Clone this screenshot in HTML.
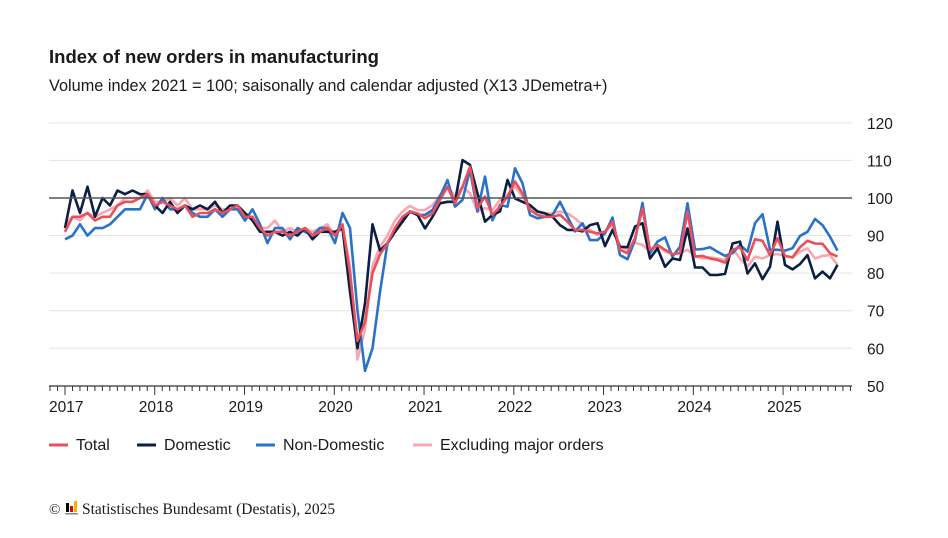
<!DOCTYPE html>
<html><head><meta charset="utf-8"><style>
body{margin:0;background:#fff;width:948px;height:533px;overflow:hidden;font-family:"Liberation Sans",sans-serif}
</style></head><body>
<svg id="s" width="948" height="533" xmlns="http://www.w3.org/2000/svg" font-family="Liberation Sans, sans-serif">
<text x="49" y="63" font-size="18.5" font-weight="bold" fill="#1a1a1a">Index of new orders in manufacturing</text>
<text x="49" y="91" font-size="16.3" fill="#1a1a1a">Volume index 2021 = 100; saisonally and calendar adjusted (X13 JDemetra+)</text>
<g id="grid"></g>
<g id="lines" fill="none" stroke-width="2.6" stroke-linejoin="round"></g>
<g font-size="16" fill="#1a1a1a">
<line x1="49" y1="445" x2="68" y2="445" stroke="#e8505b" stroke-width="3"/><text x="76" y="450">Total</text>
<line x1="137" y1="445" x2="156" y2="445" stroke="#0b1f44" stroke-width="3"/><text x="164" y="450">Domestic</text>
<line x1="256" y1="445" x2="275" y2="445" stroke="#2a72c8" stroke-width="3"/><text x="283" y="450">Non-Domestic</text>
<line x1="413" y1="445" x2="432" y2="445" stroke="#f7a8b0" stroke-width="3"/><text x="440" y="450">Excluding major orders</text>
</g>
<text x="49" y="514" font-size="15" font-family="Liberation Serif, serif" fill="#1a1a1a">©</text>
<rect x="66" y="503" width="3" height="9" fill="#000"/><rect x="70" y="506" width="3" height="6" fill="#d00"/><rect x="74" y="501" width="3" height="11" fill="#f0b400"/><rect x="65" y="513" width="13" height="1.5" fill="#888"/>
<text x="82" y="514" font-size="15.5" font-family="Liberation Serif, serif" fill="#1a1a1a">Statistisches Bundesamt (Destatis), 2025</text>
</svg>
<script>
var ns="http://www.w3.org/2000/svg";
function el(p,t,a,txt){var e=document.createElementNS(ns,t);for(var k in a)e.setAttribute(k,a[k]);if(txt)e.textContent=txt;p.appendChild(e);return e;}
var g=document.getElementById('grid');
function Y(v){return 198-(v-100)*3.757;}
for(var v=60;v<=120;v+=10){if(v==100)continue;el(g,'line',{x1:49,x2:852,y1:Y(v),y2:Y(v),stroke:'#e3e3e3','stroke-width':1});}
for(var v=50;v<=120;v+=10)el(g,'text',{x:867,y:Y(v)+6,'font-size':15.5,fill:'#1a1a1a'},String(v));
el(g,'line',{x1:49,x2:852,y1:386,y2:386,stroke:'#333','stroke-width':1.2});
function X(i){return 65+i*7.5;}
for(var i=-2;i<106;i++){var x=65+i*7.48;if(x<49||x>852)continue;var maj=(i%12==0);el(g,'line',{x1:x,x2:x,y1:386,y2:maj?395:391,stroke:'#333','stroke-width':1});}
for(var y=0;y<9;y++)el(g,'text',{x:65+y*12*7.48-16,y:412,'font-size':15.5,fill:'#1a1a1a'},String(2017+y));
var D=[92,102,96,103,95,100,98,102,101,102,101,101, 98,96,99,96,98,97,98,97,99,96,98,98, 96,94,91,91,91,90,91,90,92,89,91,91, 91,92,75,60,72,93,86,88,91,
93.7,96.4,95.5,91.9,95.0,98.6,99.0,99.0,110.1,108.8,101.2,93.7,95.5,96.4,104.8,99.9,99.0,98.1,96.4,95.9,95.0,92.8,91.5,91.5,91.1,
92.8,93.3,87.2,91.5,87.0,86.9,92.4,93.3,83.9,86.6,81.7,83.9,83.5,91.9,81.5,81.5,79.5,79.5,79.8,87.9,88.4,79.9,82.6,78.4,81.7,93.7,82.2,81.0,82.4,84.8,78.6,80.4,78.6,82.2];
var N=[89,90,93,90,92,92,93,95,97,97,97,101, 97,100,97,97,98,96,95,95,97,95,97,97, 94,97,93,88,92,92,89,92,91,90,92,92, 88,96,92,70,54,60,75,88,91,
94.6,96.4,95.5,95.5,96.8,100.4,104.8,97.7,99.5,107.5,96.4,105.7,94.1,98.1,97.7,107.9,103.9,95.5,94.6,95.0,95.5,99.0,95.0,91.1,93.3,
88.8,88.8,90.6,94.8,84.8,83.7,88.8,98.7,85.3,88.4,89.5,84.4,87.0,98.6,86.3,86.4,86.9,85.7,84.6,85.3,87.5,85.7,93.3,95.7,86.2,86.2,86.0,86.6,89.9,91.0,94.4,92.8,89.7,86.0];
var T=[91,95,95,96,94,95,95,98,99,99,100,101, 98,99,98,97,98,95,96,96,97,96,97,98, 95,95,92,90,91,91,90,91,92,90,91,92, 90,93,80,62,67,80,85,88,92,
95.0,96.4,95.9,94.6,95.9,99.5,103.0,98.6,103.0,108.3,97.3,100.4,95.5,97.7,100.4,104.4,101.2,96.8,95.5,95.0,95.0,95.5,93.7,91.5,91.5,
91.0,90.6,91.0,93.7,86.2,85.3,89.3,97.2,86.2,87.5,86.2,85.1,85.3,96.4,84.4,84.6,83.9,83.5,82.8,86.2,86.9,83.5,89.0,88.6,84.8,89.3,84.6,84.2,86.9,88.6,87.9,87.8,85.3,84.4];
var E=[93,95,94,96,95,96,97,98,100,100,100,102, 99,99,100,98,100,97,97,97,98,97,97,98, 96,94,92,92,94,91,92,91,92,91,92,93, 90,92,82,57,65,82,87,90,94,
96.4,97.9,96.8,96.8,98.1,100.8,103.0,100.4,103.0,101.2,96.4,97.3,96.8,99.5,100.8,103.0,100.4,97.7,96.4,95.9,95.9,96.4,95.9,94.6,92.8,
91.5,90.2,91.0,92.8,87.0,86.2,88.1,87.5,85.7,87.5,85.7,85.1,85.3,86.2,84.6,83.9,84.2,83.9,83.5,86.6,83.9,81.7,84.4,83.9,84.8,85.1,84.6,84.2,85.7,86.6,83.9,84.6,84.8,82.2];
var L=document.getElementById('lines');
function draw(a,c){var p=a.map(function(v,i){return X(i).toFixed(1)+','+Y(v).toFixed(1)}).join(' ');el(L,'polyline',{points:p,stroke:c});}
draw(E,'#f7a8b0');draw(N,'#2a72c8');draw(D,'#0b1f44');draw(T,'#e8505b');
el(L,'line',{x1:49,x2:852,y1:198,y2:198,stroke:'#555','stroke-width':1.5});
</script>
</body></html>
